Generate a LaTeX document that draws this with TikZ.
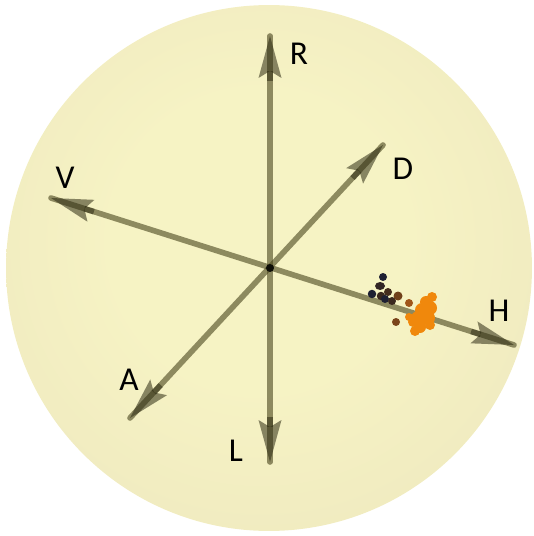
\documentclass[tikz,border=0pt]{standalone}
\usepackage{fontspec}
\setmainfont{Carlito}
\usetikzlibrary{arrows.meta,calc}
\definecolor{sphin}{RGB}{246,243,196}
\definecolor{sphmid}{RGB}{239,233,191}
\definecolor{sphout}{RGB}{228,213,182}
\definecolor{axiscol}{RGB}{72,68,28}
\definecolor{tipcol}{RGB}{45,43,18}
\definecolor{navy}{RGB}{30,32,50}
\definecolor{dbrown}{RGB}{58,40,30}
\definecolor{mbrown}{RGB}{112,64,26}
\definecolor{lbrown}{RGB}{160,86,26}
\definecolor{blob}{RGB}{240,136,12}
\pgfdeclareradialshading{sphereshade}{\pgfpoint{-1bp}{3bp}}{color(0bp)=(sphin); color(14bp)=(sphin); color(32bp)=(sphmid); color(50bp)=(sphout); color(100bp)=(sphout)}

\begin{document}
\begin{tikzpicture}[x=0.02cm,y=-0.02cm,
  axis/.style={line width=3.2pt,draw=axiscol,draw opacity=0.6,line cap=round},
  tip/.style={line width=3.2pt,draw=tipcol,opacity=0.55,-{Stealth[length=0.84cm,width=0.46cm,inset=0.14cm,line width=0pt]}},
  lbl/.style={font=\fontsize{19}{21}\selectfont,text=black}]
\useasboundingbox (0,0) rectangle (533,536);
\shade[shading=sphereshade] (269,268) circle (5.26cm);

\coordinate (O) at (270,268);
\coordinate (R) at (270,36);
\coordinate (L) at (270,462);
\coordinate (V) at (51,198);
\coordinate (H) at (514,345);
\coordinate (D) at (383,145);
\coordinate (A) at (130,418);

\node[lbl] (lR) at (299,54) {R};
\node[lbl] (lL) at (236,451) {L};
\node[lbl] (lV) at (65,178) {V};
\node[lbl] (lH) at (499,311) {H};
\node[lbl] (lD) at (403,169) {D};
\node[lbl] (lA) at (129,380) {A};

\draw[axis] (R) -- (L);
\draw[axis] (V) -- (H);
\draw[axis] (A) -- (D);

\draw[tip] ($(R)!0.9cm!(O)$) -- (R);
\draw[tip] ($(L)!0.9cm!(O)$) -- (L);
\draw[tip] ($(V)!0.9cm!(O)$) -- (V);
\draw[tip] ($(H)!0.9cm!(O)$) -- (H);
\draw[tip] ($(D)!0.9cm!(O)$) -- (D);
\draw[tip] ($(A)!0.9cm!(O)$) -- (A);

\fill[black!80!axiscol] (O) circle (0.08cm);

\fill[navy] (383,277) circle (0.08cm);
\fill[dbrown!70!navy] (380,286) ellipse (0.1cm and 0.08cm);
\fill[navy] (372,294) circle (0.085cm);
\fill[dbrown] (381,296) circle (0.085cm);
\fill[dbrown!80!mbrown] (388,292) circle (0.08cm);
\fill[navy] (385,299) circle (0.08cm);
\fill[dbrown] (392,301) circle (0.08cm);
\fill[mbrown] (398,296) circle (0.09cm);
\fill[lbrown] (409,303) circle (0.08cm);
\fill[mbrown!80!lbrown] (396,322) circle (0.08cm);

\fill[blob] (432,297) circle (0.1cm);
\fill[blob] (426,302) circle (0.12cm);
\fill[blob] (430,308) circle (0.14cm);
\fill[blob] (422,310) circle (0.14cm);
\fill[blob] (418,318) circle (0.14cm);
\fill[blob] (428,318) circle (0.14cm);
\fill[blob] (413,322) circle (0.1cm);
\fill[blob] (420,327) circle (0.12cm);
\fill[blob] (415,331) circle (0.1cm);
\fill[blob] (430,325) circle (0.1cm);
\fill[blob] (409,317) circle (0.08cm);
\end{tikzpicture}
\end{document}
